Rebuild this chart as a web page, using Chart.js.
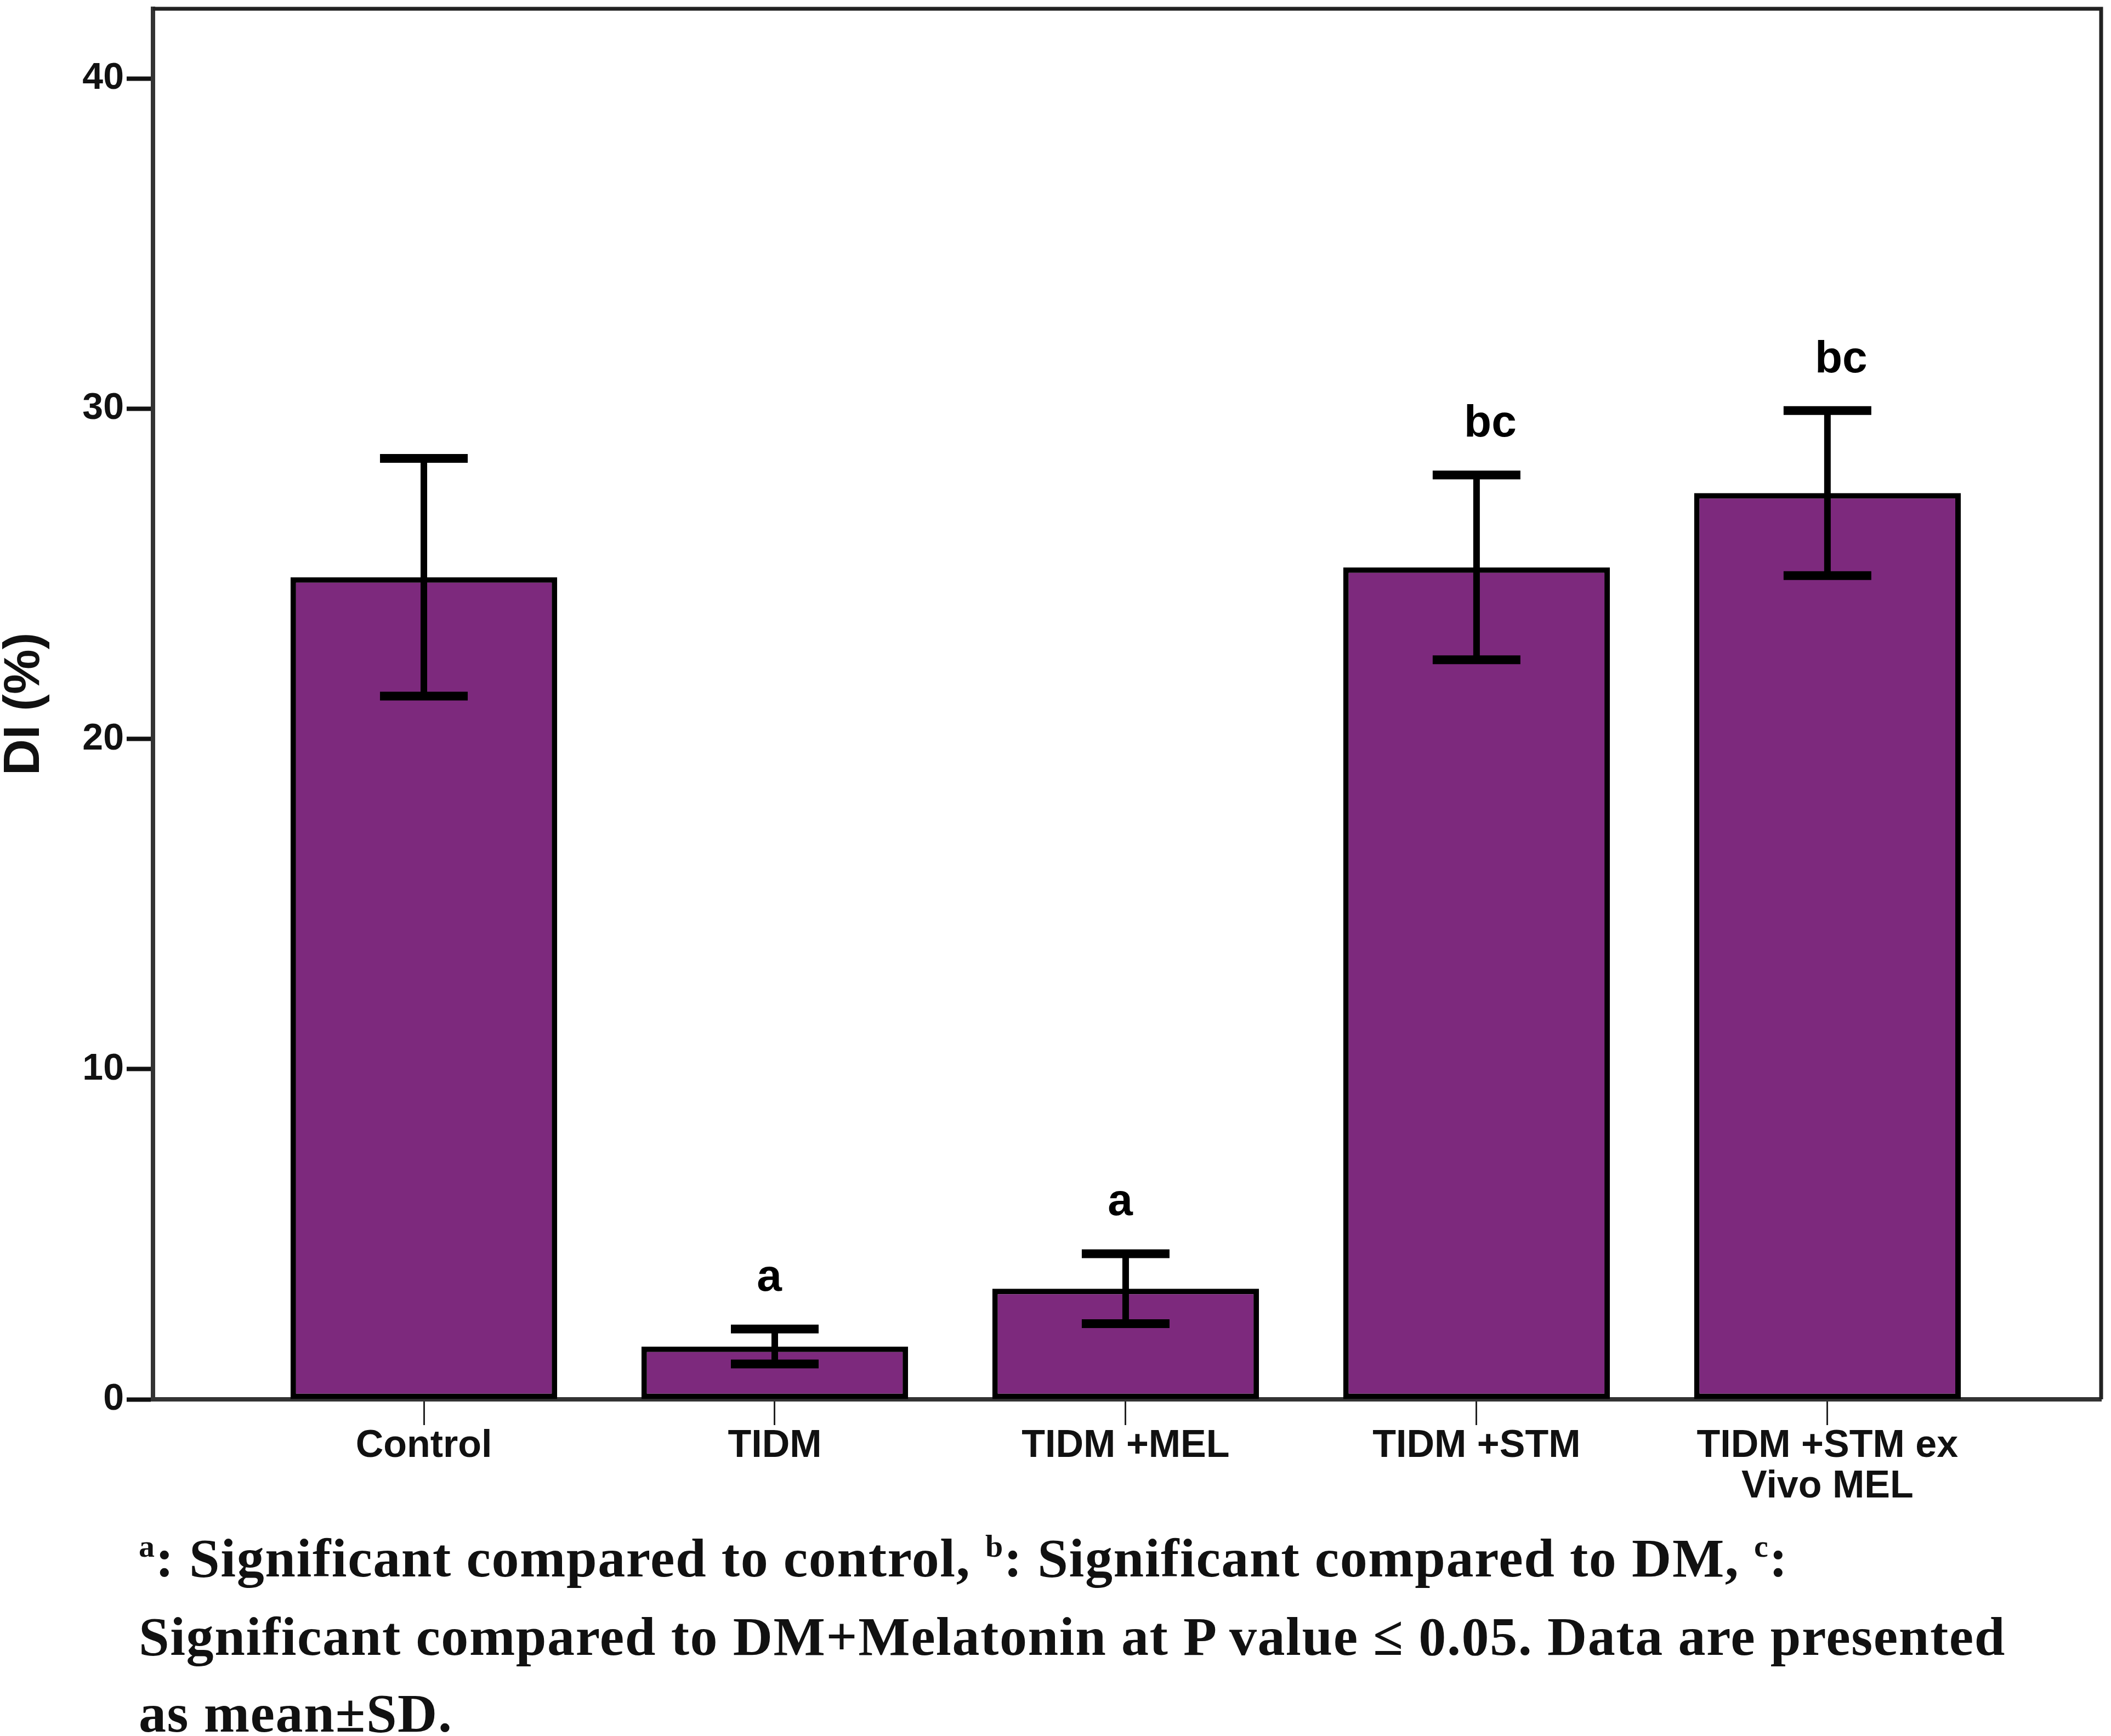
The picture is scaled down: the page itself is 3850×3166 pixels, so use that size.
<!DOCTYPE html>
<html>
<head>
<meta charset="utf-8">
<script src="https://cdn.jsdelivr.net/npm/chart.js@4.4.1/dist/chart.umd.min.js"></script>
<style>
  html, body { margin: 0; padding: 0; background: #fff; }
  body { width: 3850px; height: 3166px; position: relative; overflow: hidden; }
  #chart { position: absolute; left: 0; top: 0; }
  .note {
    position: absolute; left: 253px; white-space: pre;
    font-family: "Liberation Serif", "Times New Roman", serif;
    font-weight: bold; font-size: 100px; line-height: 100px; color: #111;
    letter-spacing: 1.6px;
  }
  .note sup { font-size: 58px; line-height: 0; vertical-align: 36px; }
</style>
</head>
<body>
<canvas id="chart" width="3850" height="2790"></canvas>
<div class="note" style="top:2792px"><sup>a</sup>: Significant compared to control, <sup>b</sup>: Significant compared to DM, <sup>c</sup>:</div>
<div class="note" style="top:2935px">Significant compared to DM+Melatonin at P value ≤ 0.05. Data are presented</div>
<div class="note" style="top:3075px">as mean±SD.</div>
<script>
const groups = ['Control', 'TIDM', 'TIDM +MEL', 'TIDM +STM', ['TIDM +STM ex', 'Vivo MEL']];
const meanDI = [24.9, 1.6, 3.35, 25.2, 27.45];
const sdDI = [3.6, 0.53, 1.06, 2.8, 2.5];
const sigLetters = ['', 'a', 'a', 'bc', 'bc'];
const yTicks = [0, 10, 20, 30, 40];

const FONT = '"Liberation Sans", Arial, sans-serif';

const errorBars = {
  id: 'errorBars',
  afterDatasetsDraw(chart) {
    const { ctx, scales: { x, y } } = chart;
    ctx.save();
    ctx.strokeStyle = '#000';
    ctx.fillStyle = '#000';
    ctx.lineCap = 'butt';
    meanDI.forEach((m, i) => {
      const px = x.getPixelForValue(i);
      const top = y.getPixelForValue(m + sdDI[i]);
      const bot = y.getPixelForValue(m - sdDI[i]);
      ctx.lineWidth = 12;
      ctx.beginPath();
      ctx.moveTo(px, top);
      ctx.lineTo(px, bot);
      ctx.stroke();
      ctx.lineWidth = 16;
      ctx.beginPath();
      ctx.moveTo(px - 80, top);
      ctx.lineTo(px + 80, top);
      ctx.moveTo(px - 80, bot);
      ctx.lineTo(px + 80, bot);
      ctx.stroke();
      if (sigLetters[i]) {
        ctx.font = 'bold 82px ' + FONT;
        ctx.textAlign = 'center';
        ctx.textBaseline = 'alphabetic';
        ctx.fillText(sigLetters[i], px + (sigLetters[i].length > 1 ? 25 : -10), top - 70);
      }
    });
    ctx.restore();
  },
  afterDraw(chart) {
    const { ctx, chartArea: a } = chart;
    ctx.save();
    ctx.strokeStyle = '#222';
    ctx.lineWidth = 7;
    ctx.beginPath();
    ctx.moveTo(a.left, a.top);
    ctx.lineTo(a.right, a.top);
    ctx.lineTo(a.right, a.bottom);
    ctx.stroke();
    ctx.restore();
  }
};

new Chart(document.getElementById('chart'), {
  type: 'bar',
  data: {
    datasets: [
      {
        data: meanDI.map((v, i) => ({ x: i, y: v })),
        backgroundColor: '#7d297d',
        borderColor: '#000',
        borderWidth: 10,
        borderSkipped: false,
        categoryPercentage: 1,
        barPercentage: 0.76,
      },
    ],
  },
  options: {
    responsive: false,
    animation: false,
    devicePixelRatio: 1,
    layout: { padding: { top: 16, right: 18, left: 0, bottom: 0 } },
    plugins: { legend: { display: false }, tooltip: { enabled: false } },
    scales: {
      x: {
        type: 'linear',
        offset: false,
        min: -0.772,
        max: 4.78,
        afterBuildTicks: (s) => { s.ticks = groups.map((g, i) => ({ value: i })); },
        afterFit: (s) => { s.height = 238; s.paddingLeft = 0; s.paddingRight = 0; },
        ticks: {
          autoSkip: false,
          maxRotation: 0,
          padding: 2,
          color: '#111',
          font: { family: FONT, weight: 'bold', size: 70, lineHeight: 1.05 },
          callback: (v) => groups[v],
        },
        grid: { offset: false, drawOnChartArea: false, tickLength: 47, tickWidth: 3, tickColor: '#222' },
        border: { width: 8, color: '#333' },
      },
      y: {
        min: 0,
        max: 42.12,
        afterBuildTicks: (s) => { s.ticks = yTicks.map((v) => ({ value: v })); },
        afterFit: (s) => { s.width = 279; s.paddingTop = 0; s.paddingBottom = 0; },
        ticks: {
          padding: 5,
          color: '#111',
          font: { family: FONT, weight: 'bold', size: 68 },
        },
        grid: { drawOnChartArea: false, tickLength: 48, tickWidth: 8, tickColor: '#111' },
        border: { width: 8, color: '#333' },
        title: {
          display: true,
          text: 'DI (%)',
          color: '#111',
          padding: 0,
          font: { family: FONT, weight: 'bold', size: 92, lineHeight: 1.0 },
        },
      },
    },
  },
  plugins: [errorBars],
});
</script>
</body>
</html>
